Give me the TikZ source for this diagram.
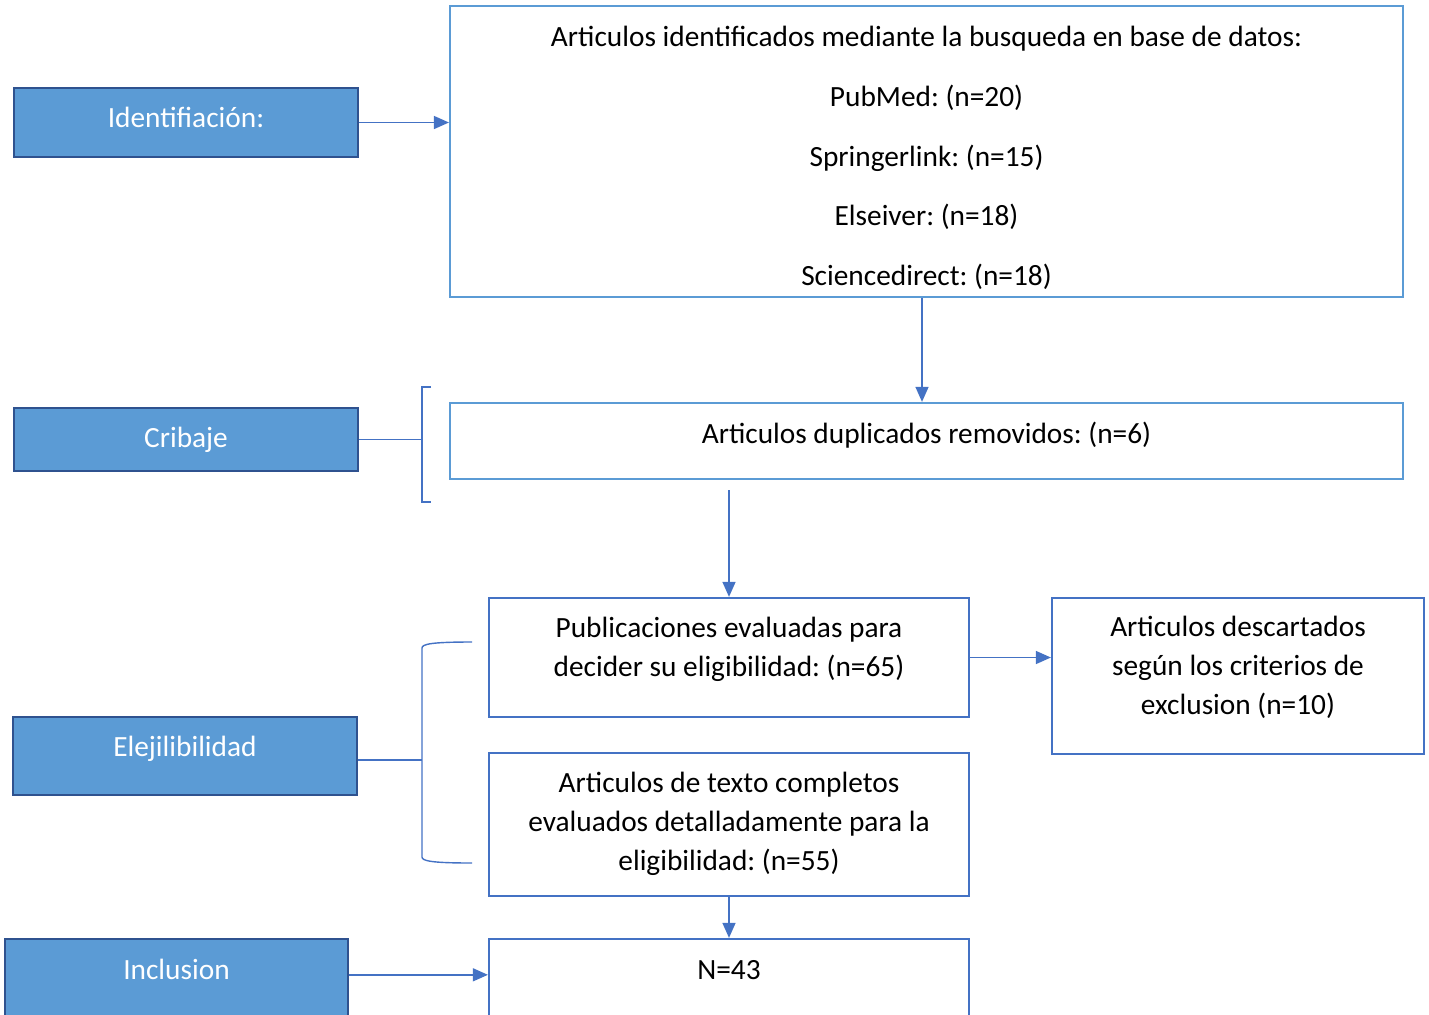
\documentclass[tikz,border=0pt]{standalone}
\usepackage{fontspec}
\setmainfont{Carlito}
\frenchspacing
\usetikzlibrary{arrows.meta}
\definecolor{stagefill}{HTML}{5B9BD5}
\definecolor{stageline}{HTML}{2F528F}
\definecolor{boxlight}{HTML}{5B9BD5}
\definecolor{boxdark}{HTML}{4472C4}
\begin{document}
\begin{tikzpicture}[x=0.02cm, y=-0.02cm,
    stage/.style={draw=stageline, line width=1.6pt, fill=stagefill, text=white,
        font=\fontsize{16.7}{22}\selectfont, inner sep=0pt, text height=0.79cm},
    entry/.style={draw=#1, line width=1.3pt, align=center,
        font=\fontsize{16.7}{22.1}\selectfont, inner sep=0pt},
    entry/.default=boxdark,
    flow/.style={draw=boxdark, line width=0.8pt, -{Triangle[length=0.3cm, width=0.26cm]}},
    bracket/.style={draw=boxdark, line width=0.8pt}]
        \useasboundingbox (0,0) rectangle (1429,1014);
        \clip (0,0) rectangle (1429,1014);

        % stages on the left
        \node[stage, minimum width=6.88cm, text depth=0.59cm] (ident) at (186,122.5) {Identifiación:};
        \node[stage, minimum width=6.88cm, text depth=0.47cm] (crib) at (186,439.5) {Cribaje};
        \node[stage, minimum width=6.88cm, text depth=0.77cm] (eleg) at (185,756) {Elejilibilidad};
        \node[stage, minimum width=6.86cm, text height=0.8cm, text depth=1.2cm] (incl) at (176.5,989) {Inclusion};

        % boxes on the right (text height runs down to the last baseline)
        \node[entry=boxlight, minimum width=19.06cm, text height=5.59cm, text depth=0.23cm,
            font=\fontsize{16.7}{34}\selectfont] (search) at (926.5,151.5)
            {Articulos identificados mediante la busqueda en base de datos:\\PubMed: (n=20)\\Springerlink: (n=15)\\Elseiver: (n=18)\\Sciencedirect: (n=18)};
        \node[entry=boxlight, minimum width=19.06cm, text height=0.81cm, text depth=0.71cm] (dup) at (926.5,441) {Articulos duplicados removidos: (n=6)};
        \node[entry, minimum width=9.6cm, text height=1.57cm, text depth=0.81cm] (pub) at (729,657.5) {Publicaciones evaluadas para\\decider su eligibilidad: (n=65)};
        \node[entry, minimum width=7.44cm, text height=2.33cm, text depth=0.79cm] (desc) at (1238,676) {Articulos descartados\\según los criterios de\\exclusion (n=10)};
        \node[entry, minimum width=9.6cm, text height=2.35cm, text depth=0.51cm] (full) at (729,824.5) {Articulos de texto completos\\evaluados detalladamente para la\\eligibilidad: (n=55)};
        \node[entry, minimum width=9.6cm, text height=0.8cm, text depth=1.2cm] (total) at (729,989) {N=43};

        \coordinate (gap) at (729,490);
        \coordinate (drop) at (922,0);
        \coordinate (cribBrace) at (422,439.5);
        \coordinate (elegBrace) at (422,760);

        % arrows
        \draw[flow] (ident.east) -- (ident.east -| search.west);
        \draw[flow] (search.south -| drop) -- (dup.north -| drop);
        \draw[flow] (gap) -- (pub.north);
        \draw[flow] (pub.east) -- (pub.east -| desc.west);
        \draw[flow] (full.south) -- (total.north);
        \draw[flow] (incl.mid -| incl.east) -- (total.mid -| total.west);

        % brackets
        \draw[bracket] (crib.east) -- (cribBrace);
        \draw[bracket] (431,387) -- (422,387) -- (422,502) -- (431,502);
        \draw[bracket] (elegBrace -| eleg.east) -- (elegBrace);
        \draw[bracket] (472,642) .. controls (432,642) and (422,644) .. (422,648) -- (422,857)
            .. controls (422,861) and (432,863) .. (472,863);
    \end{tikzpicture}
\end{document}
